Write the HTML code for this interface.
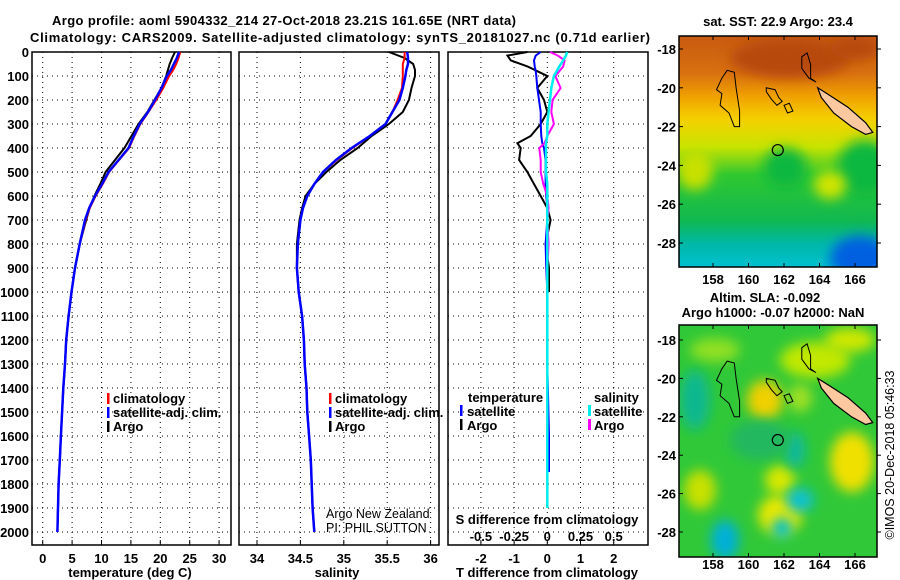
<!DOCTYPE html>
<html><head><meta charset="utf-8"><style>
body{margin:0;background:#fff;}
svg{display:block;font-family:"Liberation Sans",sans-serif;}
.t{font-weight:bold;font-size:13px;}
</style></head><body>
<svg id="c" width="900" height="580" viewBox="0 0 900 580">
<defs>
<linearGradient id="sst" x1="0" y1="0" x2="0" y2="1">
<stop offset="0" stop-color="#c85a10"/><stop offset="0.16" stop-color="#d87010"/>
<stop offset="0.26" stop-color="#f0a000"/><stop offset="0.36" stop-color="#f5d000"/>
<stop offset="0.48" stop-color="#c8e400"/><stop offset="0.6" stop-color="#30c830"/>
<stop offset="0.8" stop-color="#10b850"/><stop offset="0.9" stop-color="#00b8a8"/>
<stop offset="1" stop-color="#00c0d0"/></linearGradient>
<filter id="bl" x="-50%" y="-50%" width="200%" height="200%"><feGaussianBlur stdDeviation="6"/></filter>
<clipPath id="m1"><rect x="679" y="36" width="198" height="231"/></clipPath>
<clipPath id="m2"><rect x="679" y="325" width="198" height="232"/></clipPath>
</defs>
<g id="titles">
<text x="52" y="25" class="t" font-size="14" textLength="464">Argo profile: aoml 5904332_214 27-Oct-2018 23.21S 161.65E (NRT data)</text>
<text x="30" y="42" class="t" font-size="14" textLength="620">Climatology: CARS2009. Satellite-adjusted climatology: synTS_20181027.nc (0.71d earlier)</text>
</g>
</svg>
<script>
// ---- data ----
const depths=[0,25,50,75,100,150,200,250,300,350,400,450,500,550,600,650,700,800,900,1000,1100,1200,1300,1400,1500,1600,1700,1800,1900,2000];
const tempClim=[23.4,23.1,22.7,22.2,21.5,20.5,19.3,18.0,16.6,15.6,14.7,13.0,11.3,10.2,9.0,8.0,7.3,6.3,5.5,4.9,4.4,4.0,3.8,3.5,3.3,3.1,2.9,2.7,2.6,2.5];
const tempSat=[23.2,22.8,22.3,21.8,21.1,20.2,19.1,17.9,16.5,15.5,14.6,12.9,11.2,10.1,8.9,7.9,7.2,6.3,5.5,4.9,4.4,4.0,3.8,3.5,3.3,3.1,2.9,2.7,2.6,2.5];
const tempArgo=[22.5,22.0,21.6,21.3,21.0,20.2,19.0,17.8,16.3,15.1,13.9,12.3,10.7,9.8,8.8,8.0,7.4,6.3,5.5,4.9,4.4,4.0,3.8,3.5,3.3,3.1,2.9,2.7,2.6,2.5];
const salClim=[35.70,35.70,35.68,35.68,35.68,35.67,35.62,35.56,35.48,35.30,35.10,34.92,34.76,34.66,34.58,34.53,34.50,34.47,34.46,34.48,34.52,34.54,34.55,34.57,34.58,34.60,34.62,34.63,34.64,34.66];
const salSat=[35.73,35.74,35.74,35.72,35.71,35.68,35.64,35.56,35.48,35.30,35.09,34.91,34.76,34.66,34.58,34.53,34.50,34.47,34.46,34.48,34.52,34.54,34.55,34.57,34.58,34.60,34.62,34.63,34.64,34.66];
const salArgo=[35.52,35.70,35.80,35.82,35.82,35.78,35.75,35.68,35.52,35.32,35.16,34.96,34.80,34.66,34.56,34.52,34.49,34.46,34.46,34.48,34.52,34.54,34.55,34.57,34.58,34.60,34.62,34.63,34.64,34.66];
const diffDepths=[0,15,35,60,80,100,150,200,250,300,350,380,400,450,500,550,600,650,700,800,900,1000];
const tDiffArgo=[-0.6,-1.2,-1.1,-0.6,-0.3,0,-0.3,-0.1,0,-0.2,-0.5,-0.9,-0.8,-0.85,-0.6,-0.4,-0.2,0,0.1,-0.05,0.05,0.05];
const tDiffSat=[-0.2,-0.35,-0.4,-0.38,-0.35,-0.33,-0.3,-0.25,-0.2,-0.2,-0.18,-0.15,-0.1,-0.05,-0.05,-0.05,-0.03,0,0,-0.05,-0.03,0];
const sDiffArgo=[0.02,0.08,0.13,0.12,0.09,0.06,0.1,0.04,0.03,0.05,0,-0.02,-0.06,-0.05,-0.05,-0.03,0,0.01,0,0.01,0,0];
const sDiffSat=[0.15,0.14,0.12,0.09,0.07,0.05,0.03,0.02,0.01,0,0,-0.01,-0.01,-0.01,-0.01,0,0,0,0,0,0,0];
const tempTicks=[0,5,10,15,20,25,30];
const salTicks=[34,34.5,35,35.5,36];
const tDiffTicks=[-2,-1,0,1,2];
const sDiffTicks=[-0.5,-0.25,0,0.25,0.5];
const depthTicks=[0,100,200,300,400,500,600,700,800,900,1000,1100,1200,1300,1400,1500,1600,1700,1800,1900,2000];
const lonTicks=[158,160,162,164,166];
const latTicks=[-18,-20,-22,-24,-26,-28];
// ---- scales ----
const TOP=52,BOT=545;
const yD=d=>TOP+d*0.24;
const xT=t=>42.7+t*5.88;
const xS=s=>257+(s-34)*86.8;
const xTd=d=>547.3+d*33.2;
const xSd=d=>547.3+d*132.8;
const NS='http://www.w3.org/2000/svg';
const svg=document.getElementById('c');
function mk(tag,attrs,parent){const e=document.createElementNS(NS,tag);for(const k in attrs)e.setAttribute(k,attrs[k]);(parent||svg).appendChild(e);return e;}
function txt(x,y,s,attrs,parent){const e=mk('text',Object.assign({x:x,y:y,'font-weight':'bold','font-size':13},attrs||{}),parent);e.textContent=s;return e;}
function line(xs,ys,xf,color,w,name,parent){
  const pts=xs.map((v,i)=>xf(v).toFixed(1)+','+yD(ys[i]).toFixed(1)).join(' ');
  const p=mk('polyline',{points:pts,fill:'none',stroke:color,'stroke-width':w},parent);
  
  
  return p;}
function panel(x0,x1,xticks,xf,name){
  const g=mk('g',{});
  
  
  depthTicks.forEach(d=>{mk('line',{x1:x0,x2:x1,y1:yD(d),y2:yD(d),stroke:'#000','stroke-width':1,'stroke-dasharray':'1,4'},g);});
  xticks.forEach(t=>{mk('line',{x1:xf(t),x2:xf(t),y1:TOP,y2:BOT,stroke:'#000','stroke-width':1,'stroke-dasharray':'1,4'},g);
    mk('line',{x1:xf(t),x2:xf(t),y1:BOT-5,y2:BOT,stroke:'#000'},g);});
  const r=mk('rect',{x:x0,y:TOP,width:x1-x0,height:BOT-TOP,fill:'none',stroke:'#000','stroke-width':1.5},g);
  
  
  return g;}
const dg=mk('g',{});


depthTicks.forEach(d=>{txt(29,yD(d)+5,String(d),{'text-anchor':'end'},dg);});
const p1=panel(32,231,tempTicks,xT,'temperature-panel');
tempTicks.forEach(t=>txt(xT(t),563,String(t),{'text-anchor':'middle'},p1));
txt(130,577,'temperature (deg C)',{'text-anchor':'middle','font-size':13},p1);
line(tempArgo,depths,xT,'#000',2,'temp-argo-line',p1);
line(tempClim,depths,xT,'#f00',2,'temp-climatology-line',p1);
line(tempSat,depths,xT,'#00f',2.5,'temp-satellite-line',p1);
const p2=panel(239,439,salTicks,xS,'salinity-panel');
salTicks.forEach(t=>txt(xS(t),563,String(t),{'text-anchor':'middle'},p2));
txt(337,577,'salinity',{'text-anchor':'middle'},p2);
line(salArgo,depths,xS,'#000',2,'sal-argo-line',p2);
line(salClim,depths,xS,'#f00',2,'sal-climatology-line',p2);
line(salSat,depths,xS,'#00f',2.5,'sal-satellite-line',p2);
function legend(x,y,items,parent,nm){
  const g=mk('g',{},parent);
  
  
  items.forEach((it,i)=>{mk('rect',{x:x,y:y+i*14-10,width:2.5,height:11,fill:it[1]},g);
    txt(x+6,y+i*14,it[0],{},g);});}
const leg=[['climatology','#f00'],['satellite-adj. clim.','#00f'],['Argo','#000']];
legend(107,403,leg,p1,'temperature-legend');
legend(329,403,leg,p2,'salinity-legend');
txt(326,518,'Argo New Zealand',{'font-weight':'normal','font-size':12.5},p2);
txt(326,532,'PI: PHIL SUTTON',{'font-weight':'normal','font-size':12.5},p2);
const p3=panel(448,648,tDiffTicks,xTd,'difference-panel');
tDiffTicks.forEach(t=>txt(xTd(t),563,String(t),{'text-anchor':'middle'},p3));
sDiffTicks.forEach(t=>txt(xSd(t),541,String(t),{'text-anchor':'middle'},p3));
txt(547,524,'S difference from climatology',{'text-anchor':'middle'},p3);
txt(547,577,'T difference from climatology',{'text-anchor':'middle'},p3);
line(tDiffArgo,diffDepths,xTd,'#000',2,'tdiff-argo-line',p3);
line(tDiffSat.concat([0,0.05,0.05,0.05]),diffDepths.concat([1300,1600,1700,1750]),xTd,'#00f',2,'tdiff-satellite-line',p3);
line(sDiffArgo,diffDepths,xSd,'#f0f',2,'sdiff-argo-line',p3);
line(sDiffSat.concat([0,0,0]),diffDepths.concat([1500,1800,1900]),xSd,'#0ee',2.5,'sdiff-satellite-line',p3);
const lg3=mk('g',{},p3);


txt(468,402,'temperature',{},lg3);
mk('rect',{x:460,y:405,width:2.5,height:11,fill:'#00f'},lg3);txt(467,416,'satellite',{},lg3);
mk('rect',{x:460,y:419,width:2.5,height:11,fill:'#000'},lg3);txt(467,430,'Argo',{},lg3);
txt(594,402,'salinity',{},lg3);
mk('rect',{x:588,y:405,width:3,height:11,fill:'#0ee'},lg3);txt(594,416,'satellite',{},lg3);
mk('rect',{x:588,y:419,width:3,height:11,fill:'#f0f'},lg3);txt(594,430,'Argo',{},lg3);
function mapAxes(y0,y1,lat18y,lat28y,name,labelY){
  const g=mk('g',{});
  
  
  const xL=lon=>713+(lon-158)*17.75;
  const yL=lat=>lat18y+(-18-lat)*(lat28y-lat18y)/10;
  lonTicks.forEach(l=>{txt(xL(l),labelY,String(l),{'text-anchor':'middle'},g);
    mk('line',{x1:xL(l),x2:xL(l),y1:y1,y2:y1-4,stroke:'#000'},g);mk('line',{x1:xL(l),x2:xL(l),y1:y0,y2:y0+4,stroke:'#000'},g);});
  latTicks.forEach(l=>{txt(676,yL(l)+5,String(l),{'text-anchor':'end'},g);
    mk('line',{x1:679,x2:683,y1:yL(l),y2:yL(l),stroke:'#000'},g);mk('line',{x1:877,x2:881,y1:yL(l),y2:yL(l),stroke:'#000'},g);});
  mk('rect',{x:679,y:y0,width:198,height:y1-y0,fill:'none',stroke:'#000','stroke-width':1.5},g);
  return {xL,yL};}
function islands(g,xL,yL){
  const P=pts=>pts.map(p=>xL(p[0]).toFixed(1)+','+yL(p[1]).toFixed(1)).join(' ');
  [[[158.5,-19.5],[158.8,-19.1],[159.2,-19.2],[159.3,-20],[159.5,-21.2],[159.5,-22],[159.2,-22],[158.9,-21.3],[158.4,-20.9],[158.5,-20.3],[158.2,-20.1]],
   [[161,-20],[161.5,-20.1],[161.7,-20.5],[161.9,-20.7],[161.6,-20.9],[161.3,-20.6],[161,-20.2]],
   [[162,-20.9],[162.3,-20.8],[162.5,-21.2],[162.2,-21.3]],
   [[163,-18.4],[163.3,-18.2],[163.5,-18.8],[163.5,-19.5],[163.8,-19.7],[163.4,-19.5],[163,-19]]]
  .forEach(s=>{mk('polygon',{points:P(s),fill:'none',stroke:'#000','stroke-width':1},g);});
  const nc=mk('polygon',{points:P([[163.9,-20],[164.6,-20.4],[165.6,-21],[166.6,-21.8],[167,-22.3],[166.6,-22.4],[165.8,-22],[164.8,-21.3],[164.1,-20.5]]),fill:'#fcc8a0',stroke:'#000','stroke-width':1.2},g);
  
  
  mk('circle',{cx:xL(161.65),cy:yL(-23.21),r:5.5,fill:'none',stroke:'#000','stroke-width':1.2},g);}
const g1=mk('g',{'clip-path':'url(#m1)'});


mk('rect',{x:679,y:36,width:198,height:231,fill:'url(#sst)'},g1);
mk('ellipse',{cx:790,cy:58,rx:60,ry:20,fill:'#b84a10',filter:'url(#bl)'},g1);
mk('ellipse',{cx:855,cy:48,rx:25,ry:12,fill:'#b84a10',filter:'url(#bl)'},g1);
mk('ellipse',{cx:785,cy:168,rx:22,ry:20,fill:'#10b840',filter:'url(#bl)'},g1);
mk('ellipse',{cx:865,cy:168,rx:28,ry:28,fill:'#10b840',filter:'url(#bl)'},g1);
mk('ellipse',{cx:695,cy:170,rx:18,ry:20,fill:'#c8e000',filter:'url(#bl)'},g1);
mk('ellipse',{cx:830,cy:185,rx:16,ry:14,fill:'#d0e400',filter:'url(#bl)'},g1);
mk('ellipse',{cx:860,cy:258,rx:30,ry:22,fill:'#0060e0',filter:'url(#bl)'},g1);
const a1=mapAxes(36,267,49,243,'sst-map',284);
islands(g1,a1.xL,a1.yL);
txt(778,26,'sat. SST: 22.9 Argo: 23.4',{'text-anchor':'middle'});
const g2=mk('g',{'clip-path':'url(#m2)'});


mk('rect',{x:679,y:325,width:198,height:232,fill:'#30c838'},g2);
[[765,400,18,20,'#f0d000'],[815,360,35,18,'#c0e800'],[850,340,25,12,'#d0e800'],[852,462,22,30,'#f0e000'],[780,515,22,20,'#e8e800'],[780,480,15,15,'#d8e800'],[700,490,16,20,'#c8e000'],[715,350,25,12,'#90e020'],[800,398,12,14,'#a0e020']]
.forEach(e=>{mk('ellipse',{cx:e[0],cy:e[1],rx:e[2],ry:e[3],fill:e[4],filter:'url(#bl)'},g2);});
[[725,540,14,20,'#00b0d8'],[800,500,14,12,'#10c0d0'],[782,528,10,10,'#00c0d0'],[795,450,10,18,'#10b8a0'],[695,400,15,30,'#10b890'],[760,440,30,20,'#20b860']]
.forEach(e=>{mk('ellipse',{cx:e[0],cy:e[1],rx:e[2],ry:e[3],fill:e[4],filter:'url(#bl)'},g2);});
const a2=mapAxes(325,557,340,532,'sla-map',569);
islands(g2,a2.xL,a2.yL);
txt(765,302,'Altim. SLA: -0.092',{'text-anchor':'middle'});
txt(773,317,'Argo h1000: -0.07 h2000: NaN',{'text-anchor':'middle'});
const st=txt(0,0,'©IMOS 20-Dec-2018 05:46:33',{'font-weight':'normal','font-size':12.5,'text-anchor':'middle',transform:'translate(894,455) rotate(-90)'});


</script>
</body></html>
